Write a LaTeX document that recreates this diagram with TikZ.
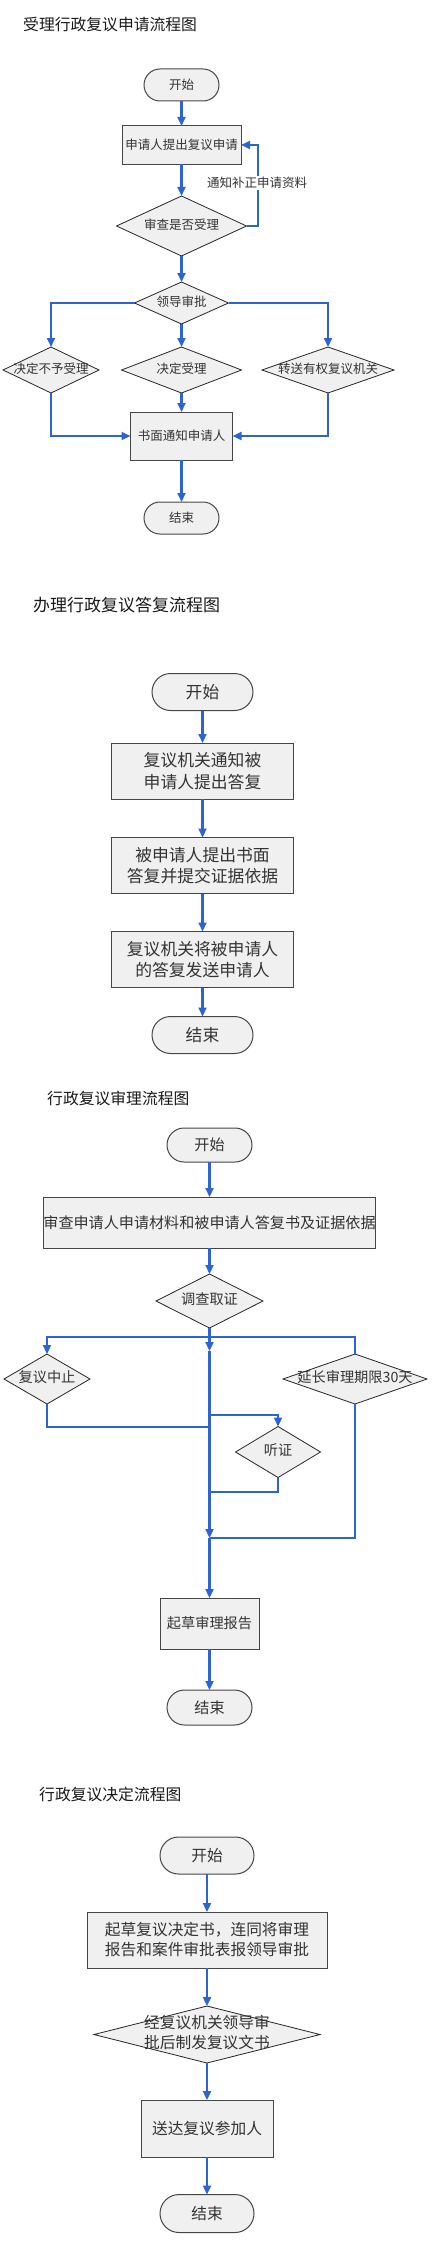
\documentclass[tikz,border=0pt]{standalone}
\usepackage{fontspec}
\newfontfamily\cjk{Noto Sans CJK SC}
\usetikzlibrary{arrows.meta,shapes.geometric}
\definecolor{flowblue}{RGB}{45,100,210}
\definecolor{boxgray}{RGB}{240,240,240}
\definecolor{edgegray}{RGB}{70,70,70}
\newcommand{\ctext}[1]{\makebox[0pt]{\begin{tabular}{@{}c@{}}#1\end{tabular}}}

\begin{document}
\begin{tikzpicture}[
    x=1pt, y=-1pt,
    term/.style={rectangle, rounded corners=#1, minimum height=2*#1, draw=edgegray, line width=1pt, fill=boxgray, inner sep=0pt, outer sep=0pt, text=black!80},
    box/.style={rectangle, draw=edgegray, line width=1pt, fill=boxgray, inner sep=0pt, outer sep=0pt, align=center, text=black!80},
    decision/.style={diamond, draw=black!85, line width=0.8pt, fill=boxgray, inner sep=0pt, outer sep=0pt, text=black!80},
    arrow/.style={-{Triangle[length=9pt,width=8pt]}, line width=2.2pt, flowblue},
    link/.style={line width=2.2pt, flowblue},
    heading/.style={anchor=west, inner sep=0pt, text=black!90, font=\cjk\fontsize{15.8pt}{18pt}\selectfont},
    fsA/.style={font=\cjk\fontsize{12.5pt}{15pt}\selectfont},
    fsB/.style={font=\cjk\fontsize{16.8pt}{21.4pt}\selectfont},
    fsC/.style={font=\cjk\fontsize{15.1pt}{18pt}\selectfont},
    fsD/.style={font=\cjk\fontsize{14.2pt}{17pt}\selectfont},
    fsE/.style={font=\cjk\fontsize{15.7pt}{20pt}\selectfont}
  ]
    \useasboundingbox (0,0) rectangle (433,2264);

    % 受理
    \node[heading] (t1) at (23,25) {受理行政复议申请流程图};
    \node[term=16pt, minimum width=75pt, fsA] (s1start) at (181.5,85) {开始};
    \node[box, minimum width=119pt, minimum height=38pt, fsA] (s1apply) at (181.5,145) {申请人提出复议申请};
    \node[decision, minimum width=130pt, minimum height=60pt, fsA] (s1check) at (181.5,226) {\ctext{审查是否受理}};
    \node[decision, minimum width=94pt, minimum height=42pt, fsA] (s1lead) at (181.5,303) {\ctext{领导审批}};
    \node[decision, minimum width=96pt, minimum height=46pt, fsA] (s1reject) at (51,370) {\ctext{决定不予受理}};
    \node[decision, minimum width=120pt, minimum height=46pt, fsA] (s1accept) at (181.5,370) {\ctext{决定受理}};
    \node[decision, minimum width=132pt, minimum height=46pt, fsA] (s1transfer) at (328,370) {\ctext{转送有权复议机关}};
    \node[box, minimum width=102pt, minimum height=48pt, fsA] (s1notify) at (181.5,436) {书面通知申请人};
    \node[term=16pt, minimum width=75pt, fsA] (s1end) at (181.5,518) {结束};
    \coordinate (s1back) at (258,226);

    \draw[arrow] (s1start) -- (s1apply);
    \draw[arrow] (s1apply) -- (s1check);
    \draw[arrow] (s1check.east) -- (s1back) |- (s1apply.east);
    \node[fill=white, inner sep=1pt, text=black!80, fsA] (s1hint) at (257,183) {通知补正申请资料};
    \draw[arrow] (s1check) -- (s1lead);
    \draw[arrow] (s1lead.west) -| (s1reject.north);
    \draw[arrow] (s1lead) -- (s1accept);
    \draw[arrow] (s1lead.east) -| (s1transfer.north);
    \draw[arrow] (s1reject.south) |- (s1notify.west);
    \draw[arrow] (s1accept) -- (s1notify);
    \draw[arrow] (s1transfer.south) |- (s1notify.east);
    \draw[arrow] (s1notify) -- (s1end);

    % 答复
    \node[heading, font=\cjk\fontsize{17pt}{20pt}\selectfont] (t2) at (33,605) {办理行政复议答复流程图};
    \node[term=18.5pt, minimum width=101pt, fsB] (s2start) at (202.5,692) {开始};
    \node[box, minimum width=182pt, minimum height=56pt, fsB] (s2notice) at (202.5,771) {复议机关通知被\\申请人提出答复};
    \node[box, minimum width=182pt, minimum height=56pt, fsB] (s2reply) at (202.5,865.5) {被申请人提出书面\\答复并提交证据依据};
    \node[box, minimum width=182pt, minimum height=56pt, fsB] (s2forward) at (202.5,959.5) {复议机关将被申请人\\的答复发送申请人};
    \node[term=18.5pt, minimum width=101pt, fsB] (s2end) at (202.5,1035) {结束};

    \draw[arrow] (s2start) -- (s2notice);
    \draw[arrow] (s2notice) -- (s2reply);
    \draw[arrow] (s2reply) -- (s2forward);
    \draw[arrow] (s2forward) -- (s2end);

    % 审理
    \node[heading] (t3) at (47,1098) {行政复议审理流程图};
    \node[term=17pt, minimum width=85pt, fsC] (s3start) at (209.5,1145) {开始};
    \node[box, minimum width=325pt, minimum height=51pt, fsC] (s3review) at (209.5,1222.5) {审查申请人申请材料和被申请人答复书及证据依据};
    \node[decision, minimum width=107pt, minimum height=54pt, fsD] (s3probe) at (209.5,1301) {\ctext{调查取证}};
    \node[decision, minimum width=86pt, minimum height=50pt, fsD] (s3halt) at (47,1379) {\ctext{复议中止}};
    \node[decision, minimum width=144pt, minimum height=50pt, fsD] (s3extend) at (355,1379) {\ctext{延长审理期限30天}};
    \node[decision, minimum width=85pt, minimum height=51pt, fsD] (s3hear) at (278,1452) {\ctext{听证}};
    \node[box, minimum width=99pt, minimum height=51pt, fsD] (s3draft) at (209.5,1623.5) {起草审理报告};
    \node[term=17.5pt, minimum width=85pt, fsC] (s3end) at (209.5,1707.5) {结束};
    \coordinate (s3split) at (209.5,1337);
    \coordinate (s3down) at (209.5,1351);
    \coordinate (s3hearin) at (209.5,1415);
    \coordinate (s3haltin) at (209.5,1427);
    \coordinate (s3hearout) at (209.5,1492);
    \coordinate (s3merge) at (209.5,1538);

    \draw[arrow] (s3start) -- (s3review);
    \draw[arrow] (s3review) -- (s3probe);
    \draw[link] (s3probe) -- (s3split);
    \draw[arrow] (s3split) -| (s3halt.north);
    \draw[link] (s3split) -| (s3extend.north);
    \draw[arrow] (s3split) -- (s3down);
    \draw[arrow] (s3down) -- (s3merge);
    \draw[arrow] (s3hearin) -| (s3hear.north);
    \draw[link] (s3halt.south) |- (s3haltin);
    \draw[link] (s3hear.south) |- (s3hearout);
    \draw[link] (s3extend.south) |- (s3merge);
    \draw[arrow] (s3merge) -- (s3draft);
    \draw[arrow] (s3draft) -- (s3end);

    % 决定
    \node[heading] (t4) at (39,1794) {行政复议决定流程图};
    \node[term=18.5pt, minimum width=94pt, fsE] (s4start) at (207,1855.5) {开始};
    \node[box, minimum width=240pt, minimum height=56pt, fsE] (s4draft) at (207,1940) {起草复议决定书，连同将审理\\报告和案件审批表报领导审批};
    \node[decision, minimum width=226pt, minimum height=57pt, fsE] (s4sign) at (207,2034.5) {\ctext{经复议机关领导审\\批后制发复议文书}};
    \node[box, minimum width=132pt, minimum height=57pt, fsE] (s4deliver) at (207,2128.5) {送达复议参加人};
    \node[term=19pt, minimum width=94pt, fsE] (s4end) at (207,2213.5) {结束};

    \draw[arrow] (s4start) -- (s4draft);
    \draw[arrow] (s4draft) -- (s4sign);
    \draw[arrow] (s4sign) -- (s4deliver);
    \draw[arrow] (s4deliver) -- (s4end);
  \end{tikzpicture}
\end{document}
